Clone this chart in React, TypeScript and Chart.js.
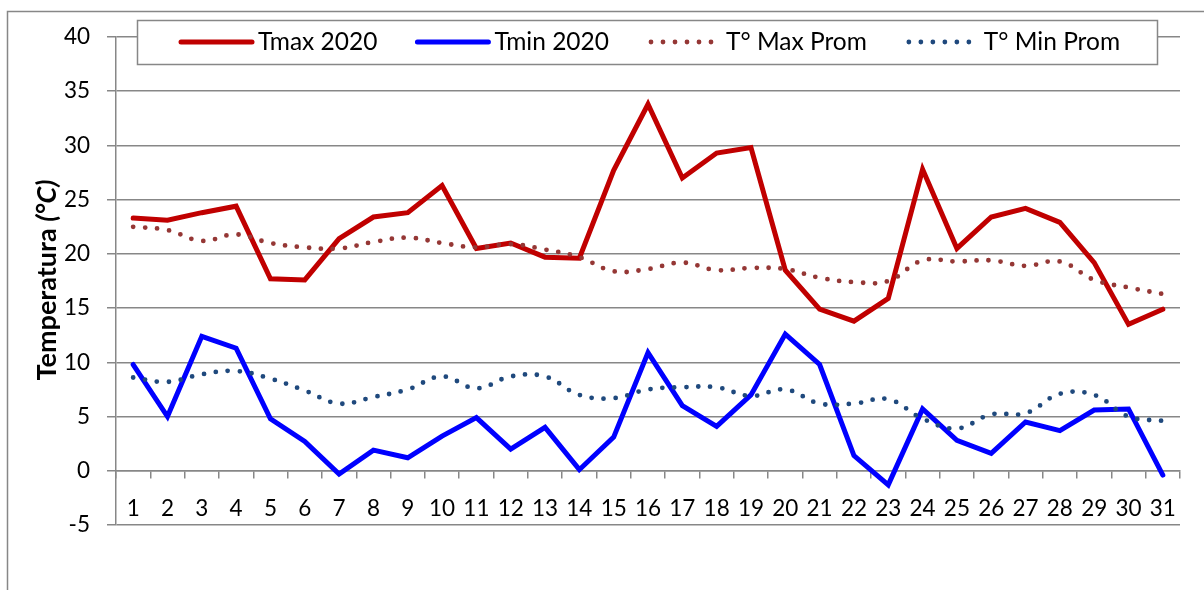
import React, { useEffect, useRef } from "react";
import { Chart, registerables } from "chart.js";

Chart.register(...registerables);

const days = ["1","2","3","4","5","6","7","8","9","10","11","12","13","14","15","16","17","18","19","20","21","22","23","24","25","26","27","28","29","30","31"];

const tmax2020 = [23.3, 23.1, 23.8, 24.4, 17.7, 17.6, 21.4, 23.4, 23.8, 26.3, 20.5, 21.0, 19.7, 19.6, 27.7, 33.8, 27.0, 29.3, 29.8, 18.5, 14.9, 13.8, 15.9, 27.8, 20.5, 23.4, 24.2, 22.9, 19.2, 13.5, 14.9];
const tmin2020 = [9.8, 5.0, 12.4, 11.3, 4.8, 2.7, -0.3, 1.9, 1.2, 3.2, 4.9, 2.0, 4.0, 0.1, 3.1, 10.9, 6.0, 4.1, 7.0, 12.6, 9.8, 1.4, -1.3, 5.7, 2.8, 1.6, 4.5, 3.7, 5.6, 5.7, -0.4];
const tmaxProm = [22.5, 22.2, 21.2, 21.8, 21.0, 20.6, 20.5, 21.1, 21.5, 21.0, 20.6, 20.9, 20.4, 19.7, 18.4, 18.6, 19.2, 18.5, 18.7, 18.6, 17.8, 17.4, 17.5, 19.4, 19.3, 19.4, 18.9, 19.3, 17.6, 16.9, 16.3];
const tminProm = [8.6, 8.2, 8.9, 9.2, 8.5, 7.4, 6.2, 6.8, 7.5, 8.7, 7.6, 8.7, 8.7, 7.0, 6.7, 7.5, 7.7, 7.7, 6.9, 7.5, 6.2, 6.2, 6.6, 4.8, 3.9, 5.2, 5.3, 7.1, 7.0, 5.0, 4.6];

const seriesLabels = ["Tmax 2020", "Tmin 2020", "T° Max Prom", "T° Min Prom"];
const yTitle = "Temperatura ";
const yTitleUnit = "(°C)";

const FONT = "Lato, 'Noto Sans', sans-serif";
const GRID = "#878787";

const decorPlugin = {
  id: "decor",
  beforeDraw(chart: any) {
    const ctx = chart.ctx as CanvasRenderingContext2D;
    ctx.save();
    ctx.fillStyle = "#ffffff";
    ctx.fillRect(0, 0, chart.width, chart.height);
    ctx.strokeStyle = GRID;
    ctx.lineWidth = 1.5;
    ctx.beginPath();
    ctx.moveTo(7.5, chart.height);
    ctx.lineTo(7.5, 11.5);
    ctx.lineTo(chart.width, 11.5);
    ctx.stroke();
    // y-axis title
    ctx.translate(47, 280);
    ctx.rotate(-Math.PI / 2);
    ctx.fillStyle = "#000";
    ctx.textBaseline = "middle";
    ctx.font = `bold 27px ${FONT}`;
    const w1 = ctx.measureText(yTitle).width;
    ctx.font = `italic bold 27px ${FONT}`;
    const w2 = ctx.measureText(yTitleUnit).width;
    const start = -(w1 + w2) / 2;
    ctx.font = `bold 27px ${FONT}`;
    ctx.textAlign = "left";
    ctx.fillText(yTitle, start, 0);
    ctx.font = `italic bold 27px ${FONT}`;
    ctx.fillText(yTitleUnit, start + w1, 0);
    ctx.restore();
  },
  afterDraw(chart: any) {
    const ctx = chart.ctx as CanvasRenderingContext2D;
    ctx.save();
    ctx.fillStyle = "#ffffff";
    ctx.strokeStyle = GRID;
    ctx.lineWidth = 1.5;
    ctx.fillRect(137, 20, 1020, 44);
    ctx.strokeRect(137.5, 20.5, 1020, 44);
    ctx.font = `24.5px ${FONT}`;
    ctx.textBaseline = "alphabetic";
    ctx.textAlign = "left";
    let x = 181;
    const yLine = 42;
    chart.data.datasets.forEach((ds: any) => {
      const dotted = ds.borderDash && ds.borderDash.length;
      ctx.beginPath();
      ctx.strokeStyle = ds.borderColor;
      ctx.lineWidth = ds.borderWidth;
      ctx.lineCap = "round";
      ctx.setLineDash(ds.borderDash || []);
      if (dotted) {
        ctx.moveTo(x + 2, yLine);
        ctx.lineTo(x + 68, yLine);
      } else {
        ctx.moveTo(x, yLine);
        ctx.lineTo(x + 71, yLine);
      }
      ctx.stroke();
      ctx.setLineDash([]);
      ctx.fillStyle = "#000";
      const tx = x + 77;
      ctx.fillText(ds.label, tx, 50);
      x = tx + ctx.measureText(ds.label).width + 40;
    });
    ctx.restore();
  },
};

export default function App() {
  const ref = useRef<HTMLCanvasElement | null>(null);
  useEffect(() => {
    if (!ref.current) return;
    const chart = new Chart(ref.current, {
      type: "line",
      data: {
        labels: days,
        datasets: [
          { label: seriesLabels[0], data: tmax2020, borderColor: "#C00000", borderWidth: 5, pointRadius: 0, tension: 0, borderCapStyle: "round", order: 3 },
          { label: seriesLabels[1], data: tmin2020, borderColor: "#0000FF", borderWidth: 5, pointRadius: 0, tension: 0, borderCapStyle: "round", order: 2 },
          { label: seriesLabels[2], data: tmaxProm, borderColor: "#953735", borderWidth: 4.8, borderDash: [0, 12], borderCapStyle: "round", pointRadius: 0, tension: 0.4, order: 1 },
          { label: seriesLabels[3], data: tminProm, borderColor: "#1F497D", borderWidth: 4.8, borderDash: [0, 12], borderCapStyle: "round", pointRadius: 0, tension: 0.4, order: 0 },
        ] as any,
      },
      options: {
        animation: false,
        responsive: false,
        events: [],
        layout: { padding: { left: 0, top: 37, right: 24, bottom: 65 } },
        plugins: { legend: { display: false }, tooltip: { enabled: false }, title: { display: false } },
        scales: {
          x: {
            type: "category",
            position: { y: 0 } as any,
            offset: true,
            grid: { offset: true, drawOnChartArea: false, drawTicks: true, tickLength: 7, color: GRID, lineWidth: 1.5 },
            border: { display: true, color: GRID, width: 1.5 },
            ticks: { font: { family: FONT, size: 22.5 }, color: "#000", padding: 17, maxRotation: 0, autoSkip: false },
          },
          y: {
            min: -5,
            max: 40,
            afterFit: (scale: any) => { scale.width = 116; },
            grid: { color: GRID, lineWidth: 1.5, drawTicks: true, tickLength: 9 },
            border: { display: true, color: GRID, width: 1.5 },
            ticks: { stepSize: 5, font: { family: FONT, size: 22.5 }, color: "#000", padding: 17 },
          },
        },
      },
      plugins: [decorPlugin],
    });
    return () => chart.destroy();
  }, []);
  return (
    <div style={{ position: "fixed", left: 0, top: 0, width: 1204, height: 590, background: "#fff" }}>
      <canvas ref={ref} width={1204} height={590} />
    </div>
  );
}
